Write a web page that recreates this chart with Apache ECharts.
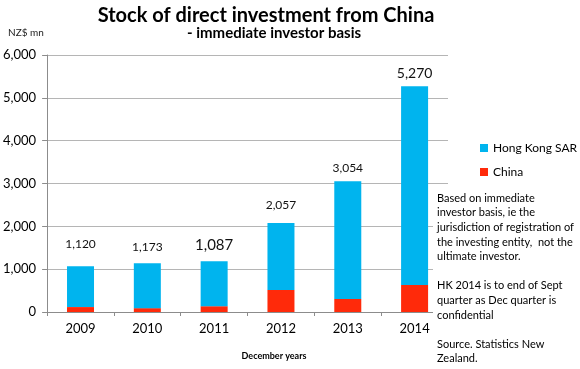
<!DOCTYPE html>
<html><head><meta charset="utf-8">
<script src="https://cdn.jsdelivr.net/npm/echarts@6/dist/echarts.min.js"></script>
<style>html,body{margin:0;padding:0;background:#fff}#c{width:580px;height:369px}</style>
</head><body><div id="c"></div>
<script>
const categories = ['2009', '2010', '2011', '2012', '2013', '2014'];
const china = [115, 90, 135, 515, 305, 630];
const hongKong = [955, 1050, 1050, 1560, 2750, 4640];
const totalLabels = ['1,120', '1,173', '1,087', '2,057', '3,054', '5,270'];

const FONT = 'Lato';
// per-bar label tweaks (style only)
const labelTweak = [
  {fontSize: 12, distance: 16},
  {fontSize: 12, distance: 10},
  {fontSize: 15, distance: 9},
  {fontSize: 12, distance: 12},
  {fontSize: 12, distance: 7},
  {fontSize: 14, distance: 6}
];

const chart = echarts.init(document.getElementById('c'), null, {renderer: 'canvas'});
chart.setOption({
  animation: false,
  backgroundColor: '#fff',
  textStyle: {fontFamily: FONT},
  title: [
    {text: 'Stock of direct investment from China', left: 261, top: 1, textAlign: 'center',
     textStyle: {fontFamily: FONT, fontSize: 20, fontWeight: 'bold', color: '#000'}},
    {text: '- immediate investor basis', left: 269, top: 21, textAlign: 'center',
     textStyle: {fontFamily: FONT, fontSize: 15, fontWeight: 'bold', color: '#000'}},
    {text: 'NZ$ mn', left: 3, top: 23, textStyle: {fontFamily: FONT, fontSize: 10, fontWeight: 'normal', color: '#222'}},
    {text: 'December years', left: 269, top: 347, textAlign: 'center',
     textStyle: {fontFamily: FONT, fontSize: 9, fontWeight: 'bold', color: '#000'}}
  ],
  legend: {
    orient: 'vertical', left: 475, top: 137, itemWidth: 8, itemHeight: 8, itemGap: 12,
    icon: 'rect',
    data: ['Hong Kong SAR', 'China'],
    textStyle: {fontFamily: FONT, fontSize: 12, color: '#000'}
  },
  grid: {left: 45, right: 132, top: 55, bottom: 57},
  xAxis: {
    type: 'category', data: categories,
    axisLine: {lineStyle: {color: '#8c8c8c'}},
    axisTick: {show: true, length: 4, lineStyle: {color: '#8c8c8c'}},
    axisLabel: {fontFamily: FONT, fontSize: 13, color: '#000', margin: 10}
  },
  yAxis: {
    type: 'value', min: 0, max: 6000, interval: 1000,
    axisLine: {show: true, lineStyle: {color: '#8c8c8c'}},
    axisTick: {show: true, length: 5, inside: false, lineStyle: {color: '#8c8c8c'}},
    splitLine: {lineStyle: {color: '#b5b5b5'}},
    axisLabel: {fontFamily: FONT, fontSize: 13, color: '#000', margin: 11,
      formatter: v => v.toLocaleString('en-US')}
  },
  series: [
    {name: 'China', type: 'bar', stack: 'tot', barWidth: 27, data: china,
     itemStyle: {color: '#FF2A0A'}},
    {name: 'Hong Kong SAR', type: 'bar', stack: 'tot', barWidth: 27,
     itemStyle: {color: '#00B4EE'},
     data: hongKong.map((v, i) => ({value: v, label: {show: true, position: 'top',
       distance: labelTweak[i].distance, fontSize: labelTweak[i].fontSize,
       color: '#111', fontFamily: FONT, formatter: () => totalLabels[i]}}))}
  ],
  graphic: [
    {type: 'rect', left: 433, top: 186, shape: {width: 147, height: 183}, style: {fill: '#fff'}, z: 50},
    {type: 'text', left: 437, top: 191, z: 51,
     style: {text: 'Based on immediate\ninvestor basis, ie the\njurisdiction of registration of\nthe investing entity,  not the\nultimate investor.\n\nHK 2014 is to end of Sept\nquarter as Dec quarter is\nconfidential\n\nSource. Statistics New\nZealand.',
       font: '11px Lato', fill: '#000', lineHeight: 14.6}}
  ]
});
</script></body></html>
